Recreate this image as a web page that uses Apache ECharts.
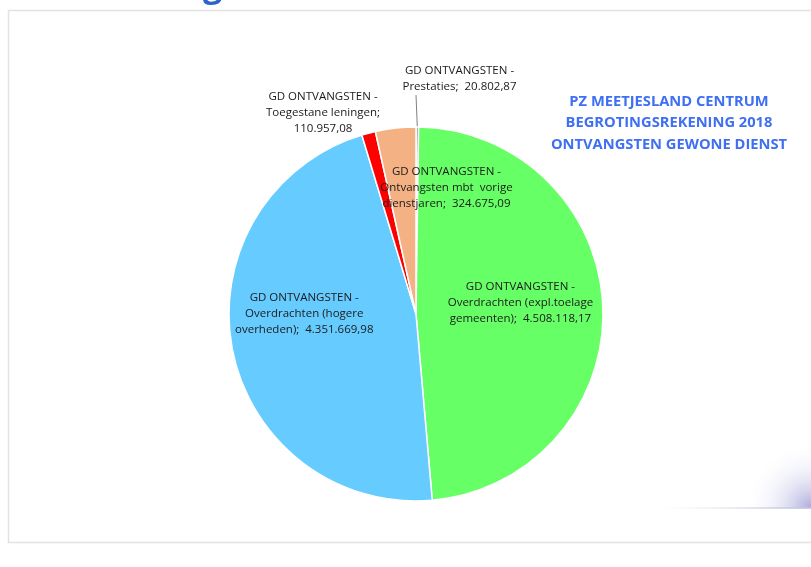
<!DOCTYPE html>
<html>
<head>
<meta charset="utf-8">
<script src="https://cdn.jsdelivr.net/npm/echarts@6/dist/echarts.min.js"></script>
<style>
  html, body { margin: 0; padding: 0; background: #fff; }
  #chart { width: 811px; height: 567px; }
</style>
</head>
<body>
<div id="chart"></div>
<script>
var myChart = echarts.init(document.getElementById('chart'))

// slices, clockwise from 12 o'clock
var names = [
  'GD ONTVANGSTEN -\nPrestaties;  20.802,87',
  'GD ONTVANGSTEN -\nOverdrachten (expl.toelage\ngemeenten);  4.508.118,17',
  'GD ONTVANGSTEN -\nOverdrachten (hogere\noverheden);  4.351.669,98',
  'GD ONTVANGSTEN -\nToegestane leningen;\n110.957,08',
  'GD ONTVANGSTEN -\nOntvangsten mbt  vorige\ndienstjaren;  324.675,09'
]
var values = [20802.87, 4508118.17, 4351669.98, 110957.08, 324675.09]
var colors = ['#8c8c8c', '#66ff66', '#66ccff', '#ff0000', '#f4b183']
var titleLines = ['PZ MEETJESLAND CENTRUM', 'BEGROTINGSREKENING 2018', 'ONTVANGSTEN GEWONE DIENST']

// label placement per slice
var labelPos = ['outside', 'inside', 'inside', 'outside', 'inside']
// inside labels: shift from default spot; outside labels: fixed box centre
var labelShift = [null, [8, -8], [-17, -19], null, [41, -30]]
var labelAt = [[416, 79], null, null, [323, 113], null]

var seriesData = values.map(function (v, i) {
  return {
    name: names[i],
    value: v,
    itemStyle: { color: colors[i] },
    // left padding on the small slice's label keeps its leader line vertical
    label: { position: labelPos[i], padding: i === 0 ? [0, 0, 0, 87] : 0 },
    labelLine: { show: i === 0, length: 30, length2: 0, lineStyle: { color: '#7f7f7f', width: 1 } }
  }
})

var option = {
  animation: false,
  backgroundColor: '#fff',
  title: {
    text: titleLines.join('\n'),
    left: 664,
    top: 86,
    textAlign: 'center',
    textStyle: {
      color: '#3f6ff2',
      fontFamily: 'Open Sans',
      fontWeight: 'bold',
      fontSize: 14.7,
      lineHeight: 21.5
    }
  },
  graphic: [
    {
      type: 'rect',
      shape: { x: 8.5, y: 10.5, width: 820, height: 532 },
      style: { fill: 'none', stroke: '#e2e2e2', lineWidth: 1.5 },
      z: -1
    },
    {
      type: 'text',
      left: 203,
      top: -30,
      style: { text: 'g', fill: '#2e63c8', font: 'bold 34px Open Sans' }
    },
    {
      type: 'rect',
      shape: { x: 700, y: 425, width: 111, height: 83 },
      style: {
        fill: new echarts.graphic.RadialGradient(1, 1, 0.8, [
          { offset: 0, color: 'rgba(150,150,212,0.8)' },
          { offset: 0.45, color: 'rgba(205,205,235,0.45)' },
          { offset: 1, color: 'rgba(255,255,255,0)' }
        ])
      },
      z: -2
    },
    {
      type: 'rect',
      shape: { x: 660, y: 507, width: 151, height: 2 },
      style: {
        fill: new echarts.graphic.LinearGradient(0, 0, 1, 0, [
          { offset: 0, color: 'rgba(225,225,235,0)' },
          { offset: 1, color: 'rgba(195,195,220,0.9)' }
        ])
      },
      z: -2
    }
  ],
  series: [
    {
      type: 'pie',
      center: [416, 314],
      radius: 187,
      startAngle: 90,
      clockwise: true,
      avoidLabelOverlap: false,
      itemStyle: { borderColor: '#fff', borderWidth: 1.5 },
      label: {
        color: '#1a1a1a',
        fontFamily: 'Open Sans',
        fontSize: 11.5,
        lineHeight: 16,
        align: 'center',
        formatter: '{b}'
      },
      labelLayout: function (params) {
        var i = params.dataIndex
        if (labelAt[i]) {
          return { x: labelAt[i][0], y: labelAt[i][1], align: 'center', verticalAlign: 'middle' }
        }
        return { dx: labelShift[i][0], dy: labelShift[i][1] }
      },
      data: seriesData
    }
  ]
}
myChart.setOption(option)
</script>
</body>
</html>
